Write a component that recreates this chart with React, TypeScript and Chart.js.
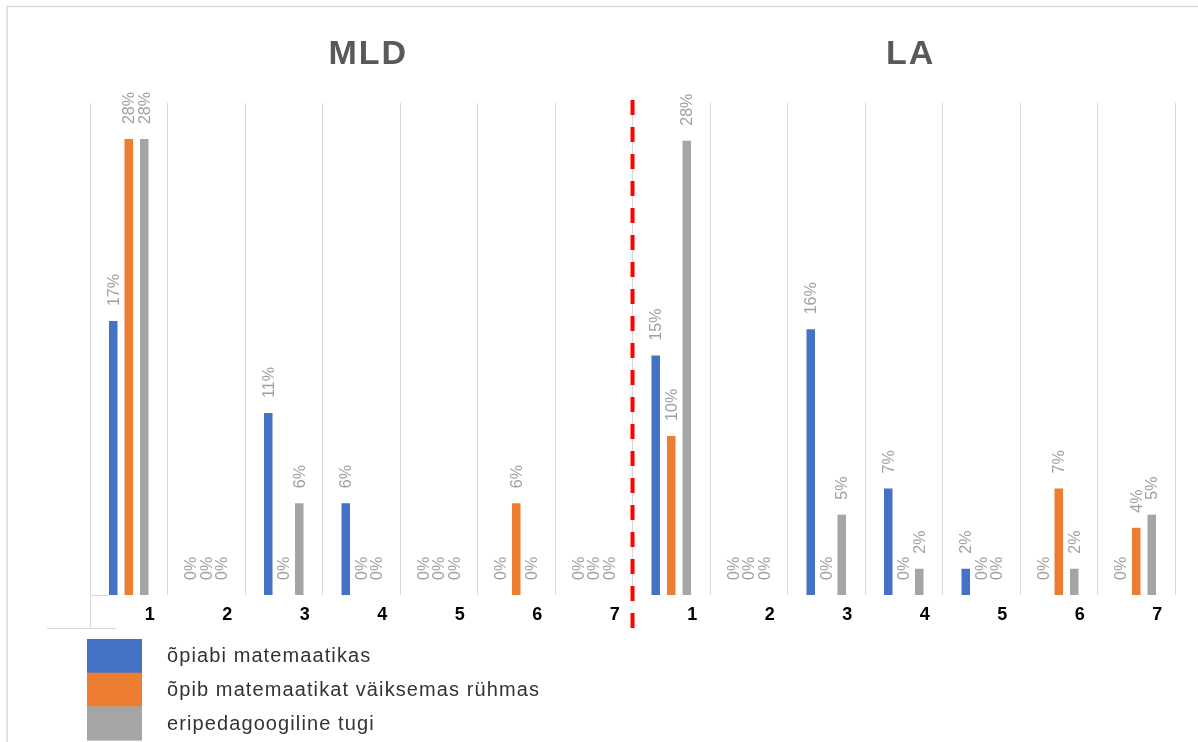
import React, { useEffect, useRef } from "react";
import { Chart, registerables } from "chart.js";

Chart.register(...registerables);

// ---- data ----
const groupTitles = ["MLD", "LA"];
const categories = ["1", "2", "3", "4", "5", "6", "7", "1", "2", "3", "4", "5", "6", "7"];
const seriesNames = [
  "õpiabi matemaatikas",
  "õpib matemaatikat väiksemas rühmas",
  "eripedagoogiline tugi",
];
const opiabiValues = [0.167, 0, 0.111, 0.056, 0, 0, 0, 0.146, 0, 0.162, 0.065, 0.016, 0, 0];
const vaiksemasRuhmasValues = [0.278, 0, 0, 0, 0, 0.056, 0, 0.097, 0, 0, 0, 0, 0.065, 0.041];
const eripedagoogilineValues = [0.278, 0, 0.056, 0, 0, 0, 0, 0.277, 0, 0.049, 0.016, 0, 0.016, 0.049];
const yMax = 0.3;

const seriesColors = ["#4472C4", "#ED7D31", "#A5A5A5"];

const W = 1198;
const H = 742;

const decorPlugin = {
  id: "decor",
  beforeDraw(chart: any) {
    const ctx = chart.ctx as CanvasRenderingContext2D;
    ctx.save();
    ctx.strokeStyle = "#d9d9d9";
    ctx.lineWidth = 1.5;
    ctx.beginPath();
    ctx.moveTo(7, H);
    ctx.lineTo(7, 6.5);
    ctx.lineTo(W, 6.5);
    ctx.stroke();
    // small frame fragments near the bottom-left of the plot
    const x0 = chart.chartArea.left;
    const yb = chart.chartArea.bottom;
    ctx.lineWidth = 1;
    ctx.beginPath();
    ctx.moveTo(x0 + 0.5, yb);
    ctx.lineTo(x0 + 0.5, yb + 33);
    ctx.moveTo(x0, yb + 0.5);
    ctx.lineTo(x0 + 19, yb + 0.5);
    ctx.moveTo(47, yb + 33.5);
    ctx.lineTo(116, yb + 33.5);
    ctx.stroke();
    ctx.restore();
  },
  afterDatasetsDraw(chart: any) {
    const ctx = chart.ctx as CanvasRenderingContext2D;
    ctx.save();
    ctx.font = "16px 'Liberation Sans', Arial, sans-serif";
    ctx.fillStyle = "#a0a0a0";
    ctx.textAlign = "left";
    ctx.textBaseline = "middle";
    chart.data.datasets.forEach((ds: any, di: number) => {
      const meta = chart.getDatasetMeta(di);
      meta.data.forEach((el: any, i: number) => {
        const v = ds.data[i] as number;
        const label = Math.round(v * 100) + "%";
        ctx.save();
        ctx.translate(el.x, el.y - 15);
        ctx.rotate(-Math.PI / 2);
        ctx.fillText(label, 0, 1);
        ctx.restore();
      });
    });
    ctx.restore();
  },
  afterDraw(chart: any) {
    const ctx = chart.ctx as CanvasRenderingContext2D;
    const xs = chart.scales.x;
    const area = chart.chartArea;
    ctx.save();

    // group titles
    ctx.font = "bold 34px 'Liberation Sans', Arial, sans-serif";
    ctx.fillStyle = "#595959";
    ctx.textBaseline = "alphabetic";
    ctx.textAlign = "left";
    const half = categories.length / 2;
    groupTitles.forEach((t, g) => {
      const first = xs.getPixelForValue(g * half);
      const last = xs.getPixelForValue(g * half + half - 1);
      const cx = (first + last) / 2 + 6;
      (ctx as any).letterSpacing = "2px";
      const w = ctx.measureText(t).width - 2;
      ctx.fillText(t, cx - w / 2, 64);
    });
    (ctx as any).letterSpacing = "0px";

    // red dashed separator
    const sepX = (xs.getPixelForValue(half - 1) + xs.getPixelForValue(half)) / 2;
    ctx.strokeStyle = "#FF0000";
    ctx.lineWidth = 4;
    ctx.setLineDash([15, 12]);
    ctx.beginPath();
    ctx.moveTo(sepX, area.top - 3);
    ctx.lineTo(sepX, 640);
    ctx.stroke();
    ctx.setLineDash([]);

    // legend
    const swX = 87;
    const swW = 55;
    const swH = 33.7;
    const swY = 639;
    ctx.font = "20px 'Liberation Sans', Arial, sans-serif";
    ctx.textBaseline = "middle";
    chart.data.datasets.forEach((ds: any, i: number) => {
      const y = swY + i * swH;
      ctx.fillStyle = ds.backgroundColor;
      ctx.fillRect(swX, y, swW, swH + 0.5);
      ctx.fillStyle = "#333333";
      (ctx as any).letterSpacing = "1.1px";
      ctx.fillText(ds.label, 167, y + swH / 2 + 1);
    });
    (ctx as any).letterSpacing = "0px";
    ctx.restore();
  },
};

export default function App() {
  const canvasRef = useRef<HTMLCanvasElement | null>(null);

  useEffect(() => {
    const canvas = canvasRef.current;
    if (!canvas) return;
    const seriesValues = [opiabiValues, vaiksemasRuhmasValues, eripedagoogilineValues];
    const chart = new Chart(canvas, {
      type: "bar",
      data: {
        labels: categories,
        datasets: seriesNames.map((name, i) => ({
          label: name,
          data: seriesValues[i],
          backgroundColor: seriesColors[i],
          borderWidth: 0,
          categoryPercentage: 0.6,
          barPercentage: 0.55,
        })),
      },
      options: {
        responsive: false,
        animation: false,
        events: [],
        layout: { padding: { left: 90, right: 23, top: 103, bottom: 107 } },
        plugins: {
          legend: { display: false },
          tooltip: { enabled: false },
          title: { display: false },
        },
        scales: {
          y: {
            display: false,
            min: 0,
            max: yMax,
          },
          x: {
            offset: true,
            grid: {
              offset: true,
              color: "#d9d9d9",
              lineWidth: 1,
              drawTicks: false,
            },
            border: { display: false },
            ticks: {
              color: "#000000",
              font: { family: "'Liberation Sans', Arial, sans-serif", size: 18, weight: "bold" },
              labelOffset: 21,
              padding: 9,
              maxRotation: 0,
              autoSkip: false,
            },
            afterFit: (scale: any) => {
              scale.height = 40;
            },
          },
        },
      },
      plugins: [decorPlugin],
    });
    return () => chart.destroy();
  }, []);

  return (
    <div style={{ position: "fixed", left: 0, top: 0, width: W, height: H, background: "#ffffff" }}>
      <canvas ref={canvasRef} width={W} height={H} style={{ display: "block" }} />
    </div>
  );
}
